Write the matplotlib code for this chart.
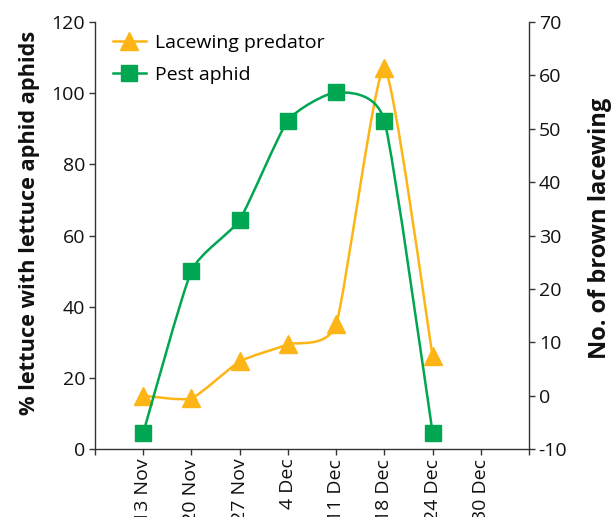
import matplotlib
matplotlib.use('Agg')
import matplotlib.pyplot as plt
from matplotlib.path import Path
from matplotlib.patches import PathPatch
from matplotlib.lines import Line2D
import numpy as np

plt.rcParams['font.family'] = ['Open Sans', 'DejaVu Sans']
plt.rcParams['axes.unicode_minus'] = False

# ---- data ----
dates = ['13 Nov', '20 Nov', '27 Nov', '4 Dec', '11 Dec', '18 Dec', '24 Dec', '30 Dec']
pest_aphid = [4.5, 50, 64.4, 92.3, 100.2, 92.3, 4.6]      # % lettuce with aphids (left axis)
lacewing = [0, -0.5, 6.4, 9.6, 13.4, 61.4, 7.4]          # no. of brown lacewing (right axis)
left_ticks = [0, 20, 40, 60, 80, 100, 120]
right_ticks = [-10, 0, 10, 20, 30, 40, 50, 60, 70]

ORANGE = '#FDB515'
GREEN = '#00A651'
AXC = '#333333'


def smooth_path(xs, ys, k=0.09):
    pts = np.column_stack([xs, ys]).astype(float)
    n = len(pts)
    verts = [pts[0]]
    codes = [Path.MOVETO]
    for i in range(n - 1):
        p0 = pts[i - 1] if i > 0 else pts[i]
        p1 = pts[i]
        p2 = pts[i + 1]
        p3 = pts[i + 2] if i + 2 < n else pts[i + 1]
        c1 = p1 + (p2 - p0) * k
        c2 = p2 - (p3 - p1) * k
        verts += [c1, c2, p2]
        codes += [Path.CURVE4] * 3
    return Path(verts, codes)


fig = plt.figure(figsize=(6.14, 5.17), dpi=100)
ax = fig.add_axes([0.1547, 0.1315, 0.7069, 0.8259])
ax.set_xlim(0, 9)
ax.set_ylim(0, 120)

x_pest = np.arange(1, len(pest_aphid) + 1)
x_lace = np.arange(1, len(lacewing) + 1)

ax2 = ax.twinx()
ax2.set_ylim(-10, 70)

# lines
ax2.add_patch(PathPatch(smooth_path(x_lace, lacewing), fill=False, edgecolor=ORANGE,
                        lw=1.8, zorder=2))
ax.add_patch(PathPatch(smooth_path(x_pest, pest_aphid), fill=False,
                       edgecolor=GREEN, lw=1.8, zorder=3))
ax.set_zorder(ax2.get_zorder() + 1)
ax.patch.set_visible(False)
# markers
ax.plot(x_pest, pest_aphid, ls='none', marker='s', ms=11.5, color=GREEN, zorder=4)
ax2.plot(x_lace, lacewing, ls='none', marker='^', ms=12.5, color=ORANGE, zorder=5)

ax.set_yticks(left_ticks)
ax2.set_yticks(right_ticks)
ax.set_xticks(range(0, 10))
ax.set_xticklabels([''] + dates + [''], rotation=90)

for a in (ax, ax2):
    a.spines['top'].set_visible(False)
    for s in a.spines.values():
        s.set_color(AXC)
        s.set_linewidth(1.0)
ax.spines['right'].set_visible(False)
ax2.spines['left'].set_visible(False)
ax2.spines['bottom'].set_visible(False)

ax.tick_params(axis='both', colors=AXC, labelcolor='#111111', labelsize=14, length=4, width=1.0, pad=3)
ax2.tick_params(axis='y', colors=AXC, labelcolor='#111111', labelsize=14, length=4, width=1.0, pad=3)

fig.text(30 / 614, 1 - 223 / 517, '% lettuce with lettuce aphid aphids', rotation=90,
         ha='center', va='center', fontsize=15.7, fontweight='bold', color='#111111')
fig.text(600 / 614, 1 - 228 / 517, 'No. of brown lacewing', rotation=90,
         ha='center', va='center', fontsize=17, fontweight='bold', color='#111111')

handles = [Line2D([], [], color=ORANGE, lw=1.8, marker='^', ms=12.5),
           Line2D([], [], color=GREEN, lw=1.8, marker='s', ms=11.5)]
ax2.legend(handles, ['Lacewing predator', 'Pest aphid'], loc='upper left', frameon=False,
           fontsize=14, handlelength=1.7, handletextpad=0.45, labelspacing=0.75,
           bbox_to_anchor=(0.01, 1.005), borderaxespad=0.3)

fig.savefig('out.png', dpi=100)
